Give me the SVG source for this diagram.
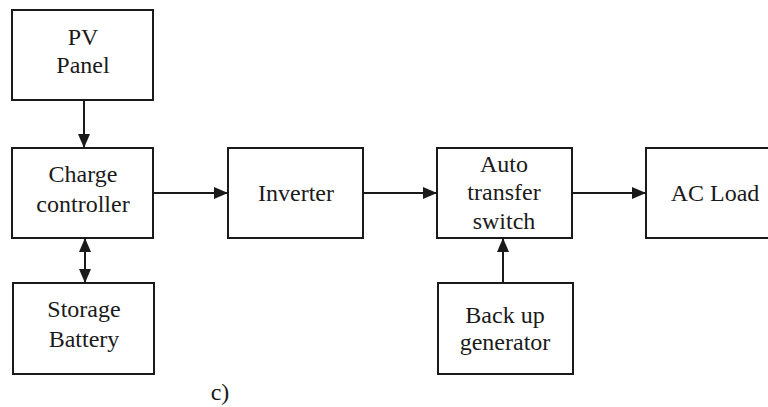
<svg xmlns="http://www.w3.org/2000/svg" width="768" height="407" viewBox="0 0 768 407">
<defs>
<marker id="ah" viewBox="0 0 14 12" markerWidth="14" markerHeight="12" refX="14" refY="6" orient="auto" markerUnits="userSpaceOnUse">
<path d="M0,0 L14,6 L0,12 Z" fill="#1a1a1a"/>
</marker>
<marker id="ahs" viewBox="0 0 14 12" markerWidth="14" markerHeight="12" refX="0" refY="6" orient="auto" markerUnits="userSpaceOnUse">
<path d="M14,0 L0,6 L14,12 Z" fill="#1a1a1a"/>
</marker>
<style>
.box{fill:#fff;stroke:#1a1a1a;stroke-width:2}
.t{font-family:"Liberation Serif","Times New Roman",serif;font-size:24px;fill:#1a1a1a;text-anchor:middle}
.c{stroke:#1a1a1a;stroke-width:2;fill:none}
</style>
</defs>
<rect width="768" height="407" fill="#fff"/>
<g id="pv">
<rect class="box" x="12" y="10" width="141" height="90"/>
<text class="t" x="83" y="45">PV</text>
<text class="t" x="83" y="73">Panel</text>
</g>
<g id="cc">
<rect class="box" x="12" y="148" width="141" height="90"/>
<text class="t" x="83" y="182">Charge</text>
<text class="t" x="83" y="212">controller</text>
</g>
<g id="battery">
<rect class="box" x="13" y="283" width="141" height="91"/>
<text class="t" x="84" y="317">Storage</text>
<text class="t" x="84" y="347">Battery</text>
</g>
<g id="inverter">
<rect class="box" x="228" y="148" width="135" height="90"/>
<text class="t" x="296" y="201">Inverter</text>
</g>
<g id="ats">
<rect class="box" x="437" y="148" width="135" height="90"/>
<text class="t" x="504" y="172">Auto</text>
<text class="t" x="504" y="200">transfer</text>
<text class="t" x="504" y="229">switch</text>
</g>
<g id="acload">
<rect class="box" x="646" y="148" width="130" height="90"/>
<text class="t" x="715" y="201">AC Load</text>
</g>
<g id="generator">
<rect class="box" x="438" y="283" width="135" height="91"/>
<text class="t" x="505" y="323">Back up</text>
<text class="t" x="505" y="350">generator</text>
</g>
<g id="connectors">
<line class="c" x1="84" y1="100" x2="84" y2="148" marker-end="url(#ah)"/>
<line class="c" x1="153" y1="193" x2="228" y2="193" marker-end="url(#ah)"/>
<line class="c" x1="363" y1="193" x2="437" y2="193" marker-end="url(#ah)"/>
<line class="c" x1="572" y1="193" x2="646" y2="193" marker-end="url(#ah)"/>
<line class="c" x1="85" y1="238" x2="85" y2="283" marker-start="url(#ahs)" marker-end="url(#ah)"/>
<line class="c" x1="503" y1="283" x2="503" y2="238" marker-end="url(#ah)"/>
</g>
<text class="t" x="220" y="400">c)</text>
</svg>
